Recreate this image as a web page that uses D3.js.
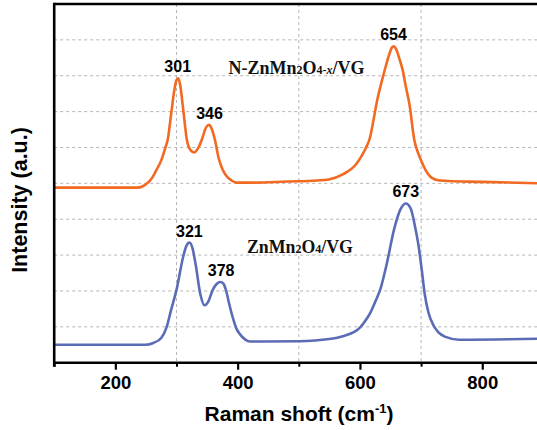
<!DOCTYPE html>
<html><head><meta charset="utf-8">
<script src="https://cdn.jsdelivr.net/npm/d3@7"></script>
<style>
body{margin:0;background:#fff;}
svg{display:block;font-family:"Liberation Sans",Arial,sans-serif;}
</style></head>
<body><svg id="c" width="537" height="430"></svg>
<script>
// Raman shift values (cm-1) and intensities (arbitrary units, offset) for each spectrum
const orangeShift = [100,235,245,252,260,268,275,281,286,291,296,300,303,306,310,314,317,322,329,336,342,348,353,358,363,369,375,381,390,398,420,480,530,549,572,594,604,610,616,622,628,635,642,648,652,655,659,664,670,675,681,689,695,700,708,717,730,800,900];
const orangeInt   = [4.88,4.88,4.92,5.0,5.15,5.4,5.64,5.95,6.25,6.9,7.55,7.88,7.93,7.75,7.2,6.6,6.2,5.95,5.86,6.0,6.25,6.55,6.63,6.5,6.2,5.7,5.4,5.22,5.08,5.02,5.02,5.05,5.08,5.11,5.25,5.54,5.8,6.0,6.25,6.75,7.3,7.8,8.25,8.6,8.78,8.82,8.75,8.5,8.15,7.7,7.2,6.2,5.85,5.64,5.35,5.16,5.08,5.04,5.0];
const blueShift = [100,250,262,275,284,291,300,311,316,321,326,331,339,346,352,359,366,372,377,381,386,392,398,404,412,420,500,550,572,590,600,608,616,625,633,644,656,667,675,683,690,695,701,706,712,720,728,740,762,900];
const blueInt   = [0.5,0.5,0.55,0.69,1.0,1.46,2.03,2.96,3.25,3.35,3.2,2.77,1.91,1.6,1.7,2.02,2.2,2.25,2.2,2.02,1.65,1.26,0.95,0.79,0.65,0.59,0.6,0.66,0.74,0.85,0.98,1.15,1.36,1.7,2.03,2.77,3.73,4.3,4.44,4.3,3.8,3.35,2.6,1.91,1.4,1.05,0.85,0.72,0.64,0.67];
// Peak annotations
const orangePeaks = [301,346,654];
const orangePeakPos = [302,354,655];
const orangePeakInt = [7.93,6.63,8.82];
const bluePeaks = [321,378,673];
const bluePeakPos = [321,373,675];
const bluePeakInt = [3.35,2.25,4.44];
const xMajorTicks = [200,400,600,800];
const xMinorTicks = [100,300,500,700,900];
const yGrid = [1,2,3,4,5,6,7,8,9];

const svg = d3.select("#c");
const L = 54.2, T = 4, B = 362.7, R = 543.4;
const x = d3.scaleLinear().domain([100,900]).range([L,R]);
const y = d3.scaleLinear().domain([0,10]).range([B,T]);

// grid
const g = svg.append("g");
g.selectAll("line.h").data(yGrid).join("line")
  .attr("x1",L).attr("x2",R).attr("y1",d=>y(d)).attr("y2",d=>y(d))
  .attr("stroke","#b5b5b5").attr("stroke-width",1).attr("stroke-dasharray","3,3");
g.selectAll("line.v").data([300,500,700,900]).join("line")
  .attr("x1",d=>x(d)).attr("x2",d=>x(d)).attr("y1",T).attr("y2",B)
  .attr("stroke","#b5b5b5").attr("stroke-width",1).attr("stroke-dasharray","3,3");

// curves
const line = d3.line().x(d=>x(d[0])).y(d=>y(d[1])).curve(d3.curveMonotoneX);
svg.append("path").datum(orangeShift.map((s,i)=>[s,orangeInt[i]]))
  .attr("d",line).attr("fill","none").attr("stroke","#F26A22").attr("stroke-width",2.6);
svg.append("path").datum(blueShift.map((s,i)=>[s,blueInt[i]]))
  .attr("d",line).attr("fill","none").attr("stroke","#5B6CB6").attr("stroke-width",2.6);

// axes
const xAxis = svg.append("g").attr("transform",`translate(0,${B})`)
  .call(d3.axisBottom(x).tickValues(xMajorTicks).tickSize(7).tickSizeOuter(0).tickFormat(d3.format("d")).tickPadding(6));
xAxis.select(".domain").remove();
xAxis.selectAll(".tick line").attr("stroke","#000").attr("stroke-width",2.2);
xAxis.selectAll(".tick text").attr("fill","#000")
  .style("font-size","18.5px").style("font-weight","bold").style("font-family","'Liberation Sans',Arial,sans-serif");
const xMinor = svg.append("g").attr("transform",`translate(0,${B})`)
  .call(d3.axisBottom(x).tickValues(xMinorTicks).tickSize(4).tickFormat(""));
xMinor.select(".domain").remove();
xMinor.selectAll(".tick line").attr("stroke","#000").attr("stroke-width",2);

svg.append("line").attr("x1",L-1.2).attr("x2",R).attr("y1",B).attr("y2",B).attr("stroke","#000").attr("stroke-width",2.6);
svg.append("line").attr("x1",L).attr("x2",L).attr("y1",T-1.3).attr("y2",B+4).attr("stroke","#000").attr("stroke-width",2.6);
svg.append("line").attr("x1",L).attr("x2",R).attr("y1",T).attr("y2",T).attr("stroke","#000").attr("stroke-width",2.6);

// peak labels
function peakLabels(pos,intens,labels){
  svg.append("g").selectAll("text").data(labels).join("text")
    .attr("x",(d,i)=>x(pos[i])).attr("y",(d,i)=>y(intens[i])-6)
    .attr("text-anchor","middle").attr("fill","#000")
    .style("font-size","16px").style("font-weight","bold")
    .text(d=>d);
}
peakLabels(orangePeakPos,orangePeakInt,orangePeaks);
peakLabels(bluePeakPos,bluePeakInt,bluePeaks);

// sample labels
const serif = "'Liberation Serif','Times New Roman',serif";
const t1 = svg.append("text").attr("x",228.5).attr("y",73.5).attr("fill","#111")
  .style("font-family",serif).style("font-weight","bold").style("font-size","18px");
t1.append("tspan").text("N-ZnMn");
t1.append("tspan").style("font-size","12px").text("2");
t1.append("tspan").text("O");
t1.append("tspan").style("font-size","12px").text("4-");
t1.append("tspan").style("font-size","12px").style("font-style","italic").text("x");
t1.append("tspan").text("/VG");
const t2 = svg.append("text").attr("x",247).attr("y",253).attr("fill","#111")
  .style("font-family",serif).style("font-weight","bold").style("font-size","17.8px");
t2.append("tspan").text("ZnMn");
t2.append("tspan").style("font-size","12px").text("2");
t2.append("tspan").text("O");
t2.append("tspan").style("font-size","12px").text("4");
t2.append("tspan").text("/VG");

// axis titles
const xt = svg.append("text").attr("x",299).attr("y",421).attr("text-anchor","middle").attr("fill","#000")
  .style("font-size","21px").style("font-weight","bold");
xt.append("tspan").text("Raman shoft (cm");
xt.append("tspan").style("font-size","13px").attr("dy",-8).text("-1");
xt.append("tspan").attr("dy",8).text(")");
svg.append("text").attr("transform","translate(27,200) rotate(-90)").attr("text-anchor","middle").attr("fill","#000")
  .style("font-size","21.5px").style("font-weight","bold").text("Intensity (a.u.)");
</script></body></html>
